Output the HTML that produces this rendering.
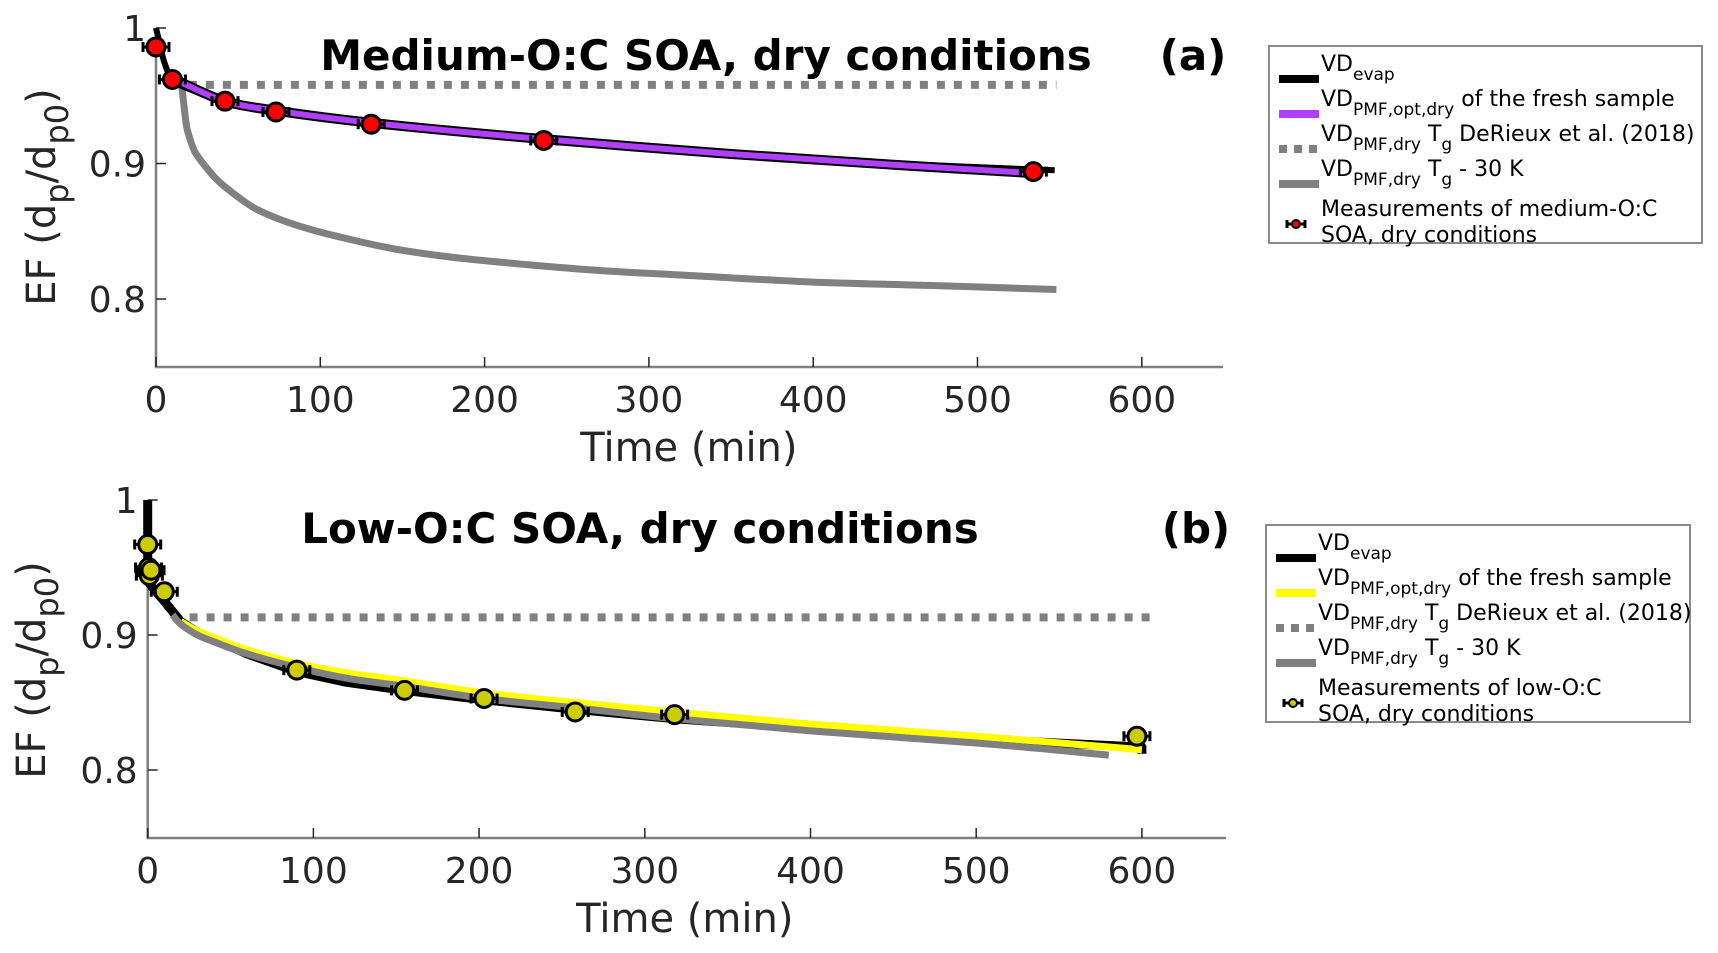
<!DOCTYPE html>
<html><head><meta charset="utf-8"><style>
html,body{margin:0;padding:0;background:#fff;}
svg{display:block;font-family:"DejaVu Sans","Liberation Sans",sans-serif;}
</style></head><body>
<svg id="chart" width="1718" height="953" viewBox="0 0 1718 953" xmlns="http://www.w3.org/2000/svg">
<rect width="1718" height="953" fill="#fff"/>
<g id="root"></g>
</svg>
<script>
// ---------- Panel (a) data ----------
const aMeasT = [0, 10, 42, 73, 131, 236, 534];
const aMeasV = [0.986, 0.962, 0.946, 0.938, 0.929, 0.917, 0.894];
const aEvapT = [0, 2, 5, 10, 20, 42, 73, 131, 236, 350, 450, 547];
const aEvapV = [1.0, 0.99, 0.975, 0.962, 0.955, 0.946, 0.938, 0.929, 0.917, 0.907, 0.900, 0.895];
const aOptT = [15, 42, 73, 131, 236, 350, 450, 533];
const aOptV = [0.960, 0.946, 0.939, 0.930, 0.918, 0.907, 0.899, 0.893];
const aTgT = [20, 548];
const aTgV = [0.958, 0.958];
const aTg30T = [14, 15.6, 17, 18.7, 21, 23.5, 26.8, 32, 38, 47, 60, 77, 95, 118, 145, 179, 220, 270, 330, 400, 470, 548];
const aTg30V = [0.962, 0.957, 0.943, 0.927, 0.917, 0.909, 0.903, 0.895, 0.887, 0.878, 0.867, 0.858, 0.851, 0.844, 0.837, 0.831, 0.826, 0.821, 0.817, 0.8125, 0.810, 0.807];
// ---------- Panel (b) data ----------
const bMeasT = [0, 0.5, 1, 2, 10, 90, 155, 203, 258, 318, 597];
const bMeasV = [0.967, 0.950, 0.944, 0.948, 0.932, 0.874, 0.859, 0.853, 0.843, 0.841, 0.825];
const bEvapT = [0, 0, 3, 10, 20, 30, 40, 60, 90, 120, 155, 203, 258, 318, 400, 500, 600, 600];
const bEvapV = [1.0, 0.94, 0.935, 0.925, 0.910, 0.902, 0.897, 0.886, 0.873, 0.865, 0.859, 0.852, 0.845, 0.838, 0.831, 0.823, 0.817, 0.812];
const bTg30T = [15, 20, 30, 40, 60, 90, 120, 155, 203, 258, 318, 400, 500, 580];
const bTg30V = [0.915, 0.908, 0.900, 0.895, 0.886, 0.876, 0.868, 0.862, 0.853, 0.846, 0.838, 0.829, 0.820, 0.811];
const bOptT = [20, 30, 40, 60, 90, 120, 155, 203, 258, 318, 400, 500, 600];
const bOptV = [0.910, 0.903, 0.898, 0.889, 0.879, 0.872, 0.866, 0.857, 0.850, 0.843, 0.834, 0.825, 0.815];
const bTgT = [15, 607];
const bTgV = [0.913, 0.913];
const xTicks = [0, 100, 200, 300, 400, 500, 600];
const yTicks = [0.8, 0.9, 1];
const yTickLabels = ["0.8", "0.9", "1"];

const NS = "http://www.w3.org/2000/svg";
const root = document.getElementById("root");
function mk(tag, attrs, parent) {
  const e = document.createElementNS(NS, tag);
  for (const k in attrs) e.setAttribute(k, attrs[k]);
  (parent || root).appendChild(e);
  return e;
}
function linePath(T, V, X, Y) {
  return T.map((t, i) => (i ? "L" : "M") + X(t).toFixed(1) + "," + Y(V[i]).toFixed(1)).join(" ");
}
function smoothPath(T, V, X, Y) {
  const p = T.map((t, i) => [X(t), Y(V[i])]);
  let d = `M${p[0][0].toFixed(1)},${p[0][1].toFixed(1)}`;
  for (let i = 0; i < p.length - 1; i++) {
    const p0 = p[Math.max(0, i - 1)], p1 = p[i], p2 = p[i + 1], p3 = p[Math.min(p.length - 1, i + 2)];
    const c1 = [p1[0] + (p2[0] - p0[0]) / 6, p1[1] + (p2[1] - p0[1]) / 6];
    const c2 = [p2[0] - (p3[0] - p1[0]) / 6, p2[1] - (p3[1] - p1[1]) / 6];
    d += ` C${c1[0].toFixed(1)},${c1[1].toFixed(1)} ${c2[0].toFixed(1)},${c2[1].toFixed(1)} ${p2[0].toFixed(1)},${p2[1].toFixed(1)}`;
  }
  return d;
}
function panel(cfg) {
  const g = mk("g", {});
  
  
  const X = t => cfg.x0 + t * cfg.xs;
  const Y = v => cfg.y1 + (1 - v) * cfg.ys;
  const ax = mk("path", {d: `M${cfg.x0},${Y(1)} L${cfg.x0},${cfg.yb} L${cfg.xr},${cfg.yb}`, fill: "none", stroke: "#808080", "stroke-width": 2.5}, g);
  
  
  xTicks.forEach(t => {
    const tk = mk("line", {x1: X(t), x2: X(t), y1: cfg.yb, y2: cfg.yb - 10, stroke: "#262626", "stroke-width": 1.5}, g);
    
    
    const tl = mk("text", {x: X(t), y: cfg.yb + 45, "text-anchor": "middle", "font-size": 36, fill: "#262626"}, g);
    tl.textContent = t;
    
    
  });
  yTicks.forEach((v, i) => {
    const tk = mk("line", {x1: cfg.x0, x2: cfg.x0 + 10, y1: Y(v), y2: Y(v), stroke: "#262626", "stroke-width": 1.5}, g);
    
    
    const tl = mk("text", {x: cfg.x0 - 10, y: Y(v) + 13, "text-anchor": "end", "font-size": 36, fill: "#262626"}, g);
    tl.textContent = yTickLabels[i];
    
    
  });
  const xl = mk("text", {x: cfg.x0 + 300 * cfg.xs + 40, y: cfg.yb + 94, "text-anchor": "middle", "font-size": 40, fill: "#262626"}, g);
  xl.textContent = "Time (min)";
  
  
  const yl = mk("text", {transform: `translate(${cfg.ylx},${cfg.ylc}) rotate(-90)`, "text-anchor": "middle", "font-size": 40, fill: "#262626"}, g);
  yl.innerHTML = 'EF  (d<tspan font-size="32" dy="13">p</tspan><tspan dy="-13">/d</tspan><tspan font-size="32" dy="13">p0</tspan><tspan dy="-13">)</tspan>';
  
  
  const tt = mk("text", {x: cfg.titleX, y: cfg.titleY, "text-anchor": "middle", "font-size": 42, "font-weight": "bold", fill: "#000"}, g);
  tt.textContent = cfg.title;
  
  
  const pl = mk("text", {x: cfg.labX, y: cfg.titleY, "text-anchor": "middle", "font-size": 42, "font-weight": "bold", fill: "#000"}, g);
  pl.textContent = cfg.lab;
  
  
  cfg.lines.forEach(L => {
    const d = L.straight ? linePath(L.t, L.v, X, Y) : smoothPath(L.t, L.v, X, Y);
    if (L.edge) {
      const e = mk("path", {d: d, fill: "none", stroke: "#000", "stroke-width": L.w + 4, "stroke-linejoin": "round"}, g);
      
      
    }
    const p = mk("path", {d: d, fill: "none", stroke: L.c, "stroke-width": L.w, "stroke-linejoin": "round", "stroke-dasharray": L.dash || "none"}, g);
    
    
  });
  cfg.measT.forEach((t, i) => {
    const cx = X(t), cy = Y(cfg.measV[i]);
    const eb = mk("path", {d: `M${cx - 13},${cy} L${cx + 13},${cy} M${cx - 13},${cy - 5} L${cx - 13},${cy + 5} M${cx + 13},${cy - 5} L${cx + 13},${cy + 5}`, stroke: "#000", "stroke-width": 3, fill: "none"}, g);
    
    
    const c = mk("circle", {cx: cx, cy: cy, r: 9, fill: cfg.mc, stroke: "#000", "stroke-width": 3}, g);
    
    
  });
}
panel({name: "panel-a", x0: 156, xs: 1.643, xr: 1223, y1: 28, ys: 1355, yb: 367,
  ylx: 55, ylc: 197, title: "Medium-O:C SOA, dry conditions", titleX: 706, titleY: 70, labX: 1193, lab: "(a)",
  measT: aMeasT, measV: aMeasV, mc: "#ff0000",
  lines: [
    {name: "tg-derieux-line", t: aTgT, v: aTgV, c: "#808080", w: 8, dash: "8 9", straight: true},
    {name: "tg-minus-30k-line", t: aTg30T, v: aTg30V, c: "#808080", w: 7},
    {name: "vd-evap-line", t: aEvapT, v: aEvapV, c: "#000", w: 6},
    {name: "vd-opt-line", t: aOptT, v: aOptV, c: "#b040ff", w: 6, edge: true}
  ]});
panel({name: "panel-b", x0: 147.7, xs: 1.657, xr: 1226, y1: 500, ys: 1350, yb: 838,
  ylx: 45, ylc: 670, title: "Low-O:C SOA, dry conditions", titleX: 640, titleY: 543, labX: 1196, lab: "(b)",
  measT: bMeasT, measV: bMeasV, mc: "#cccc00",
  lines: [
    {name: "tg-derieux-line", t: bTgT, v: bTgV, c: "#808080", w: 8, dash: "8 9", straight: true},
    {name: "vd-evap-line", t: bEvapT, v: bEvapV, c: "#000", w: 9, straight: true},
    {name: "vd-opt-line", t: bOptT, v: bOptV, c: "#ffff00", w: 7},
    {name: "tg-minus-30k-line", t: bTg30T, v: bTg30V, c: "#808080", w: 7}
  ]});

function legend(name, x, y, w, h, optColor, mc, measText) {
  const g = mk("g", {});
  
  
  const b = mk("rect", {x: x, y: y, width: w, height: h, fill: "#fff", stroke: "#8a8a8a", "stroke-width": 2}, g);
  
  
  const rows = [
    {c: "#000", dash: null, h: 'VD<tspan font-size="17" dy="9">evap</tspan>'},
    {c: optColor, dash: null, h: 'VD<tspan font-size="17" dy="9">PMF,opt,dry</tspan><tspan dy="-9"> of the fresh sample</tspan>'},
    {c: "#808080", dash: "8 7", h: 'VD<tspan font-size="17" dy="9">PMF,dry</tspan><tspan dy="-9"> T</tspan><tspan font-size="17" dy="9">g</tspan><tspan dy="-9"> DeRieux et al. (2018)</tspan>'},
    {c: "#808080", dash: null, h: 'VD<tspan font-size="17" dy="9">PMF,dry</tspan><tspan dy="-9"> T</tspan><tspan font-size="17" dy="9">g</tspan><tspan dy="-9"> - 30 K</tspan>'}
  ];
  rows.forEach((r, i) => {
    const yy = y + 25 + i * 35;
    const ln = mk("line", {x1: x + 10, x2: x + 50, y1: yy + 8, y2: yy + 8, stroke: r.c, "stroke-width": 8, "stroke-dasharray": r.dash || "none"}, g);
    
    
    const t = mk("text", {x: x + 52, y: yy, "font-size": 22, fill: "#000"}, g);
    t.innerHTML = r.h;
    
    
  });
  const my = y + 178;
  const eb = mk("path", {d: `M${x + 18},${my} L${x + 36},${my} M${x + 18},${my - 4} L${x + 18},${my + 4} M${x + 36},${my - 4} L${x + 36},${my + 4}`, stroke: "#000", "stroke-width": 3}, g);
  
  
  const mcirc = mk("circle", {cx: x + 27, cy: my, r: 4, fill: mc, stroke: "#000", "stroke-width": 2}, g);
  
  
  const t1 = mk("text", {x: x + 52, y: my - 8, "font-size": 22, fill: "#000"}, g);
  t1.textContent = measText;
  
  
  const t2 = mk("text", {x: x + 52, y: my + 18, "font-size": 22, fill: "#000"}, g);
  t2.textContent = "SOA, dry conditions";
  
  
}
legend("legend-a", 1269, 46, 433, 197, "#b040ff", "#ff0000", "Measurements of medium-O:C");
legend("legend-b", 1266, 525, 424, 197, "#ffff00", "#cccc00", "Measurements of low-O:C");
</script>
</body></html>
